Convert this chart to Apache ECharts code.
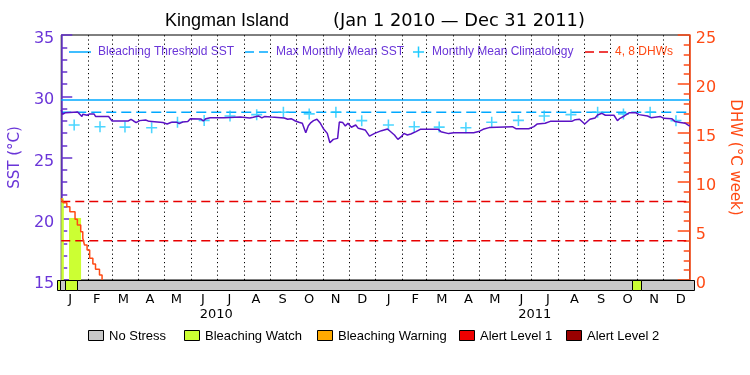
<!DOCTYPE html>
<html><head><meta charset="utf-8">
<script src="https://cdn.jsdelivr.net/npm/echarts@6/dist/echarts.min.js"></script>
<style>html,body{margin:0;padding:0;background:#fff}#c{width:750px;height:375px}</style>
</head><body><div id="c"></div>
<script>
// ---------- data ----------
const titleMain = 'Kingman Island';
const titleDates = '(Jan 1 2010 \u2014 Dec 31 2011)';
const monthLetters = ['J','F','M','A','M','J','J','A','S','O','N','D','J','F','M','A','M','J','J','A','S','O','N','D'];
const yearLabels = ['2010','2011'];
// day offsets from 2010-01-01
const monthStarts = [31,59,90,120,151,181,212,243,273,304,334,365,396,424,455,485,516,546,577,608,638,669,699];
const climDays = [15,45,74,105,135,166,196,227,258,288,319,349,380,410,439,470,500,531,561,592,623,653,684,714];
const climValues = [27.65,27.51,27.48,27.43,27.88,28.03,28.38,28.50,28.70,28.56,28.70,28.01,
                    27.65,27.51,27.48,27.43,27.88,28.03,28.38,28.50,28.70,28.56,28.70,28.01];
const sstDays = [0,1.5,5,19,21,24,25,27,30,33,38,40,55,59,78,81,84,87,91,98,102,104,118,120,123,128,134,137,141,147,150,162,165,168,173,189,191,208,210,219,223,229,233,236,244,
  259,263,267,272,276,280,284,287,290,293,297,301,305,309,312,316,321,323,327,330,333,337,342,345,353,358,360,364,372,379,387,391,395,398,402,406,412,417,438,441,450,456,479,486,
  490,497,524,528,543,545,549,553,562,568,593,597,602,608,614,620,623,628,632,642,646,649,654,660,667,671,681,685,696,700,709,713,719,725,730];
const sstValues = [28.88,28.53,28.66,28.72,28.66,28.34,28.53,28.66,28.45,28.56,28.56,28.34,28.34,27.98,27.98,28.12,27.98,27.85,28.01,28.06,27.95,27.79,27.85,27.93,27.74,27.88,27.88,27.76,27.90,27.93,28.17,28.15,27.98,28.17,28.25,28.25,28.34,28.31,28.20,28.23,28.28,28.39,28.23,28.34,28.30,
  28.23,28.12,28.17,27.98,27.88,27.79,27.02,27.60,27.85,28.01,28.12,27.79,27.30,26.97,26.20,26.48,26.56,27.90,27.85,27.57,27.79,27.47,27.65,27.38,27.25,26.75,26.70,26.97,27.19,27.33,26.84,26.48,26.70,26.97,26.84,26.92,27.11,27.30,27.30,27.11,26.95,27.02,27.02,27.15,
  27.30,27.44,27.52,27.35,27.35,27.25,27.52,27.74,27.79,27.95,27.95,28.09,28.12,27.74,28.12,28.23,28.47,28.61,28.45,28.45,28.01,28.20,28.39,28.66,28.66,28.50,28.39,28.25,28.34,28.20,28.17,27.93,27.85,27.79,27.57];
const dhwDays = [0,2.3,6.5,10,16,18.7,22.6,25,27,30,33,36.7,39.8,44.4,47.4];
const dhwValues = [8.34,7.89,7.48,6.97,6.19,5.61,4.93,4.26,3.57,3.06,2.21,1.63,1.09,0.51,0];
const bleachingThreshold = 29.7;
const maxMonthlyMean = 28.7;
const dhwLevels = [4, 8];
const watchAreaStart = [0, 9];
const watchAreaEnd = [3, 23];
const watchAreaTop = [8.34, 6.33];
const stressStart = [0, 3, 9, 23, 659, 669];
const stressEnd = [3, 9, 23, 659, 669, 730];
const stressLevel = [1, 0, 1, 0, 1, 0];
const stressNames = ['No Stress','Bleaching Watch','Bleaching Warning','Alert Level 1','Alert Level 2'];

// ---------- styles ----------
const stressColors = ['#C8C8C8','#CCFF33','#FFAA00','#EE0000','#990000'];
const purple = '#6633CC', purpleTxt = '#6A35D8', sstColor = '#5A12C4';
const orange = '#FF4A14', red = '#E80000', cyan = '#00A8FF', plusColor = '#1ECBFF';
const FF = 'Liberation Sans', FN = 'DejaVu Sans';
const DAYS = 730;

const chart = echarts.init(document.getElementById('c'));

const legendTop = 52;
const legendBoxes = [88, 184, 317, 459, 566];
const graphics = [];
// title
graphics.push({type:'text', x:165, y:21, style:{text:titleMain, fill:'#000', font:'18px "'+FF+'"', verticalAlign:'middle'}});
graphics.push({type:'text', x:333, y:21, style:{text:titleDates, fill:'#000', font:'17.8px "'+FN+'"', verticalAlign:'middle'}});
// top legend
graphics.push({type:'line', shape:{x1:69,y1:legendTop,x2:91,y2:legendTop}, style:{stroke:cyan,lineWidth:1.5}});
graphics.push({type:'text', x:98, y:legendTop, style:{text:'Bleaching Threshold SST', fill:purpleTxt, font:'12px "'+FF+'"', verticalAlign:'middle'}});
graphics.push({type:'line', shape:{x1:245,y1:legendTop,x2:254,y2:legendTop}, style:{stroke:cyan,lineWidth:1.5}});
graphics.push({type:'line', shape:{x1:259,y1:legendTop,x2:268,y2:legendTop}, style:{stroke:cyan,lineWidth:1.5}});
graphics.push({type:'text', x:276, y:legendTop, style:{text:'Max Monthly Mean SST', fill:purpleTxt, font:'12px "'+FF+'"', verticalAlign:'middle'}});
graphics.push({type:'line', shape:{x1:413,y1:legendTop,x2:424,y2:legendTop}, style:{stroke:plusColor,lineWidth:1.5}});
graphics.push({type:'line', shape:{x1:418.5,y1:legendTop-5.5,x2:418.5,y2:legendTop+5.5}, style:{stroke:plusColor,lineWidth:1.5}});
graphics.push({type:'text', x:432, y:legendTop, style:{text:'Monthly Mean Climatology', fill:purpleTxt, font:'12px "'+FF+'"', verticalAlign:'middle'}});
graphics.push({type:'line', shape:{x1:585,y1:legendTop,x2:594,y2:legendTop}, style:{stroke:red,lineWidth:1.5}});
graphics.push({type:'line', shape:{x1:599,y1:legendTop,x2:608,y2:legendTop}, style:{stroke:red,lineWidth:1.5}});
graphics.push({type:'text', x:615, y:legendTop, style:{text:'4, 8 DHWs', fill:orange, font:'12px "'+FF+'"', verticalAlign:'middle'}});
// bottom legend
stressNames.forEach((n,i)=>{
  graphics.push({type:'rect', shape:{x:legendBoxes[i]+0.5,y:330.5,width:15,height:10}, style:{fill:stressColors[i],stroke:'#000',lineWidth:1}});
  graphics.push({type:'text', x:legendBoxes[i]+21, y:336, style:{text:n, fill:'#000', font:'13px "'+FF+'"', verticalAlign:'middle'}});
});

const hline = (name, y, color, type, yIdx) => ({
  name, type:'line', xAxisIndex:0, yAxisIndex:yIdx, data:[[0,y],[DAYS,y]],
  symbol:'none', silent:true, lineStyle:{color, width:1.5, type}, z:3
});

const option = {
  animation:false,
  backgroundColor:'#fff',
  graphic: graphics,
  grid:[
    {left:57, right:56, top:35, bottom:95, show:true, borderColor:'#000', borderWidth:1, backgroundColor:'transparent'},
    {left:57, right:56, top:280, height:10}
  ],
  xAxis:[
    {gridIndex:0, type:'value', min:0, max:DAYS, show:false},
    {gridIndex:1, type:'value', min:0, max:DAYS, show:false},
    {gridIndex:1, type:'category', data:monthLetters, position:'bottom', boundaryGap:true,
     axisLine:{show:false}, axisTick:{show:false},
     axisLabel:{margin:3, fontSize:13, fontFamily:FN, color:'#000', interval:0}},
    {gridIndex:1, type:'category', data:yearLabels, position:'bottom', offset:15, boundaryGap:true,
     axisLine:{show:false}, axisTick:{show:false},
     axisLabel:{margin:3, fontSize:13, fontFamily:FN, color:'#000', interval:0}}
  ],
  yAxis:[
    {gridIndex:0, type:'value', position:'left', min:15, max:35, interval:5,
     axisLine:{show:true, lineStyle:{color:purple, width:1.5}},
     axisTick:{show:true, inside:true, length:11, lineStyle:{color:purple, width:1.5}},
     minorTick:{show:true, splitNumber:5, length:6, lineStyle:{color:purple, width:1.5}},
     axisLabel:{margin:7, formatter:v=>'{a|'+v+'}',
       rich:{a:{color:purpleTxt, fontSize:16, fontFamily:FN, padding:[8,0,0,0]}}},
     splitLine:{show:false},
     name:'SST (\u00B0C)', nameLocation:'middle', nameGap:31,
     nameTextStyle:{color:purpleTxt, fontSize:15, fontFamily:FN}},
    {gridIndex:0, type:'value', position:'right', min:0, max:25, interval:5,
     axisLine:{show:true, lineStyle:{color:orange, width:1.5}},
     axisTick:{show:true, inside:true, length:12, lineStyle:{color:orange, width:1.5}},
     minorTick:{show:true, splitNumber:5, length:6, lineStyle:{color:orange, width:1.5}},
     axisLabel:{margin:6, formatter:v=>'{a|'+v+'}',
       rich:{a:{color:orange, fontSize:16, fontFamily:FN, padding:[8,0,0,0]}}},
     splitLine:{show:false},
     name:'DHW (\u00B0C week)', nameLocation:'middle', nameGap:32, nameRotate:-90,
     nameTextStyle:{color:orange, fontSize:15, fontFamily:FN}},
    {gridIndex:1, type:'value', min:0, max:1, show:false}
  ],
  series:[
    {name:'watchArea', type:'custom', xAxisIndex:0, yAxisIndex:1, silent:true, z:1,
     data: watchAreaStart.map((s,i)=>[s, watchAreaEnd[i], watchAreaTop[i]]),
     encode:{x:[0,1], y:2},
     renderItem:(params, api)=>{
       const p0 = api.coord([api.value(0), api.value(2)]);
       const p1 = api.coord([api.value(1), 0]);
       return {type:'rect', shape:{x:p0[0], y:p0[1], width:p1[0]-p0[0], height:p1[1]-p0[1]}, style:{fill:stressColors[1]}};
     }},
    {name:'monthLines', type:'line', xAxisIndex:0, yAxisIndex:0, data:[], silent:true, z:2,
     markLine:{silent:true, symbol:'none', animation:false, label:{show:false},
       lineStyle:{color:'#000', width:1, type:[1.2,3]},
       data: monthStarts.map(d=>({xAxis:d}))}},
    hline('Bleaching Threshold SST', bleachingThreshold, cyan, 'solid', 0),
    hline('Max Monthly Mean SST', maxMonthlyMean, cyan, [10,5], 0),
    hline('DHW4', dhwLevels[0], red, [9,5], 1),
    hline('DHW8', dhwLevels[1], red, [9,5], 1),
    {name:'Monthly Mean Climatology', type:'scatter', xAxisIndex:0, yAxisIndex:0,
     data: climDays.map((d,i)=>[d, climValues[i]]),
     symbol:'path://M4.3,0h1.4v4.3h4.3v1.4h-4.3v4.3h-1.4v-4.3h-4.3v-1.4h4.3z', symbolSize:11,
     itemStyle:{color:plusColor}, z:4, silent:true},
    {name:'DHW', type:'line', xAxisIndex:0, yAxisIndex:1, step:'end',
     data: dhwDays.map((d,i)=>[d, dhwValues[i]]), symbol:'none',
     lineStyle:{color:orange, width:1.5}, z:5, silent:true},
    {name:'SST', type:'line', xAxisIndex:0, yAxisIndex:0,
     data: sstDays.map((d,i)=>[d, sstValues[i]]), symbol:'none',
     lineStyle:{color:sstColor, width:1.5}, z:6, silent:true},
    {name:'stress', type:'custom', xAxisIndex:1, yAxisIndex:2, silent:true, z:7,
     data: stressStart.map((s,i)=>[s, stressEnd[i], stressLevel[i]]),
     encode:{x:[0,1]},
     renderItem:(params, api)=>{
       const p0 = api.coord([api.value(0), 1]);
       const p1 = api.coord([api.value(1), 0]);
       return {type:'rect', shape:{x:Math.round(p0[0])+0.5, y:Math.round(p0[1])+0.5, width:Math.round(p1[0])-Math.round(p0[0]), height:Math.round(p1[1])-Math.round(p0[1])},
         style:{fill:stressColors[api.value(2)], stroke:'#000', lineWidth:1}};
     }}
  ]
};
chart.setOption(option);
</script>
</body></html>
